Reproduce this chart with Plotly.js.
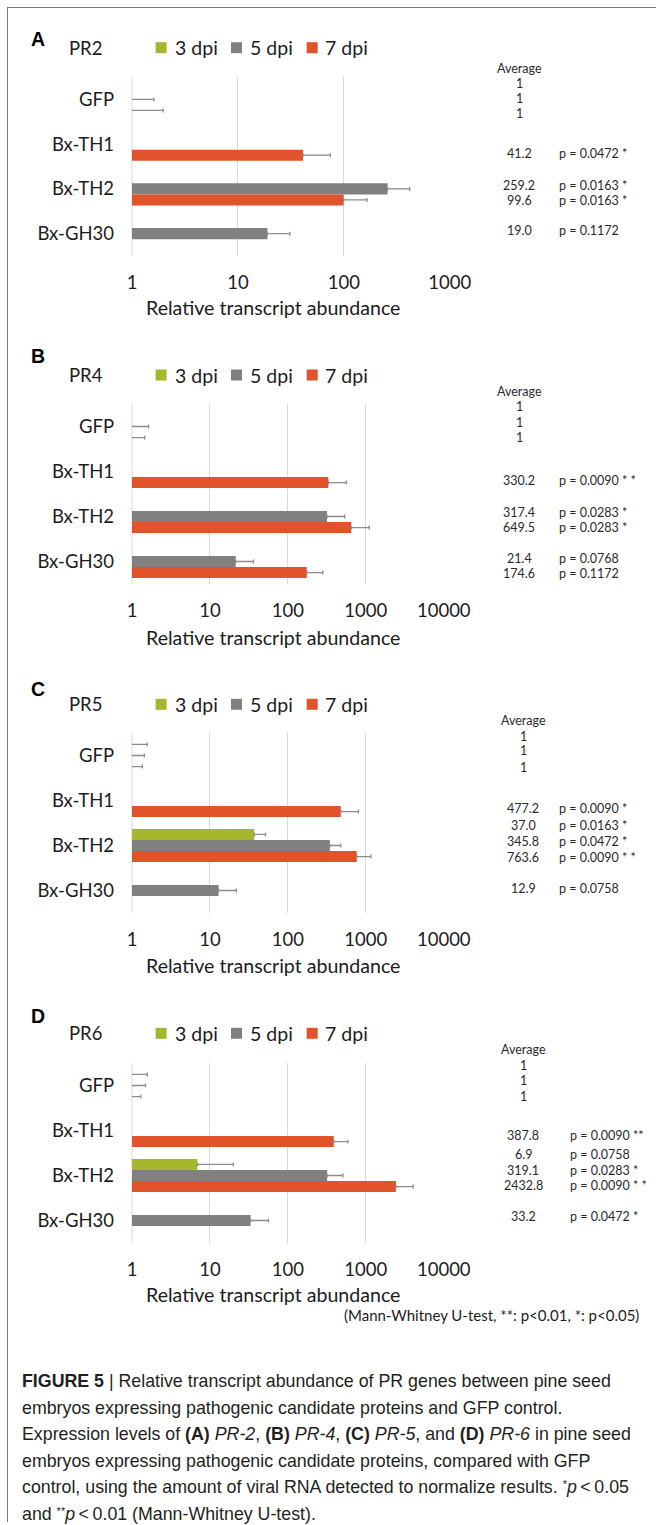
<!DOCTYPE html>
<html>
<head>
<meta charset="utf-8">
<script src="https://cdn.plot.ly/plotly-3.0.1.min.js"></script>
<style>
  html, body { margin:0; padding:0; background:#fff; }
  #wrap { position:relative; width:656px; height:1525px; overflow:hidden; }
  #chart { position:absolute; left:0; top:0; width:656px; height:1525px; }
  #frame { position:absolute; left:7px; top:7px; width:700px; height:1514px;
           border-left:1px solid #7a7a7a; border-top:1px solid #7a7a7a; }
  #caption { position:absolute; left:22px; top:1368px; font-family:"Liberation Sans", Arial, sans-serif;
             font-size:17.8px; line-height:26.5px; color:#231f20; white-space:nowrap; }
  #caption .sup { position:relative; top:-0.45em; font-size:11px; line-height:0; }
</style>
</head>
<body>
<div id="wrap">
  <div id="frame"></div>
  <div id="chart"></div>
  <div id="caption">
    <b>FIGURE 5</b> | Relative transcript abundance of PR genes between pine seed<br>
    embryos expressing pathogenic candidate proteins and GFP control.<br>
    Expression levels of <b>(A)</b> <i>PR-2</i>, <b>(B)</b> <i>PR-4</i>, <b>(C)</b> <i>PR-5</i>, and <b>(D)</b> <i>PR-6</i> in pine seed<br>
    embryos expressing pathogenic candidate proteins, compared with GFP<br>
    control, using the amount of viral RNA detected to normalize results. <span class="sup">*</span><i>p</i>&thinsp;&lt;&thinsp;0.05<br>
    and <span class="sup">**</span><i>p</i>&thinsp;&lt;&thinsp;0.01 (Mann-Whitney U-test).
  </div>
</div>
<script>
// ---------------- DATA ----------------
const categories = ["GFP", "Bx-TH1", "Bx-TH2", "Bx-GH30"];
const seriesNames = ["3 dpi", "5 dpi", "7 dpi"];
const panelLetters = ["A", "B", "C", "D"];
const geneNames = ["PR2", "PR4", "PR5", "PR6"];
const axisTitle = "Relative transcript abundance";
const testNote = "(Mann-Whitney U-test, **: p<0.01, *: p<0.05)";
const averageHeader = "Average";

const pr2TickLabels = ["1", "10", "100", "1000"];
const prTickLabels = ["1", "10", "100", "1000", "10000"];

// PR2
const pr2_3dpi = [null, null, null, null];
const pr2_5dpi = [1, null, 259.2, 19.0];
const pr2_7dpi = [1, 41.2, 99.6, null];
const pr2_3dpi_sd = [null, null, null, null];
const pr2_5dpi_sd = [0.61, null, 160, 12];
const pr2_7dpi_sd = [0.97, 33.4, 66, null];
const pr2_avgText = ["1", "1", "1", "41.2", "259.2", "99.6", "19.0"];
const pr2_pText = ["", "", "", "p = 0.0472 *", "p = 0.0163 *", "p = 0.0163 *", "p = 0.1172"];

// PR4
const pr4_3dpi = [null, null, null, null];
const pr4_5dpi = [1, null, 317.4, 21.4];
const pr4_7dpi = [1, 330.2, 649.5, 174.6];
const pr4_3dpi_sd = [null, null, null, null];
const pr4_5dpi_sd = [0.63, null, 218, 14.8];
const pr4_7dpi_sd = [0.46, 231, 460, 106];
const pr4_avgText = ["1", "1", "1", "330.2", "317.4", "649.5", "21.4", "174.6"];
const pr4_pText = ["", "", "", "p = 0.0090 * *", "p = 0.0283 *", "p = 0.0283 *", "p = 0.0768", "p = 0.1172"];

// PR5
const pr5_3dpi = [1, null, 37.0, null];
const pr5_5dpi = [1, null, 345.8, 12.9];
const pr5_7dpi = [1, 477.2, 763.6, null];
const pr5_3dpi_sd = [0.57, null, 14.7, null];
const pr5_5dpi_sd = [0.44, null, 132, 8.9];
const pr5_7dpi_sd = [0.36, 327, 397, null];
const pr5_avgText = ["1", "1", "1", "477.2", "37.0", "345.8", "763.6", "12.9"];
const pr5_pText = ["", "", "", "p = 0.0090 *", "p = 0.0163 *", "p = 0.0472 *", "p = 0.0090 * *", "p = 0.0758"];

// PR6
const pr6_3dpi = [1, null, 6.9, null];
const pr6_5dpi = [1, null, 319.1, 33.2];
const pr6_7dpi = [1, 387.8, 2432.8, null];
const pr6_3dpi_sd = [0.57, null, 13.1, null];
const pr6_5dpi_sd = [0.49, null, 189, 23.2];
const pr6_7dpi_sd = [0.30, 202, 1622, null];
const pr6_avgText = ["1", "1", "1", "387.8", "6.9", "319.1", "2432.8", "33.2"];
const pr6_pText = ["", "", "", "p = 0.0090 **", "p = 0.0758", "p = 0.0283 *", "p = 0.0090 * *", "p = 0.0472 *"];

// ---------------- STYLE / LAYOUT ----------------
const seriesColors = ["#a6b72b", "#808080", "#e1532a"];
const GRID = "#d9d9d9";
const W = 656, H = 1525;
const FONT = "Lato, 'Open Sans', sans-serif";
const TXT = "#1c1c1c";
function px(x) { return x / W; }
function py(y) { return 1 - y / H; }

const panels = [
  { series: [pr2_3dpi, pr2_5dpi, pr2_7dpi], sd: [pr2_3dpi_sd, pr2_5dpi_sd, pr2_7dpi_sd],
    avg: pr2_avgText, p: pr2_pText, ticks: pr2TickLabels,
    geo: { left: 132, right: 450, top: 77, bottom: 256, letterY: 39, headY: 47.7, titleY: 307,
           avgHeadY: 68, rowY: [83, 99, 114, 153, 185, 200, 230], avgX: 519, pX: 557 } },
  { series: [pr4_3dpi, pr4_5dpi, pr4_7dpi], sd: [pr4_3dpi_sd, pr4_5dpi_sd, pr4_7dpi_sd],
    avg: pr4_avgText, p: pr4_pText, ticks: prTickLabels,
    geo: { left: 132, right: 444, top: 404, bottom: 584, letterY: 356, headY: 375, titleY: 637,
           avgHeadY: 391, rowY: [406.7, 422, 437.3, 480, 512, 527.3, 558.3, 573.7], avgX: 519, pX: 557 } },
  { series: [pr5_3dpi, pr5_5dpi, pr5_7dpi], sd: [pr5_3dpi_sd, pr5_5dpi_sd, pr5_7dpi_sd],
    avg: pr5_avgText, p: pr5_pText, ticks: prTickLabels,
    geo: { left: 132, right: 444, top: 733, bottom: 913, letterY: 689, headY: 704.3, titleY: 965,
           avgHeadY: 720, rowY: [736, 751, 767, 808, 825.7, 841.7, 857.3, 888.3], avgX: 523, pX: 557 } },
  { series: [pr6_3dpi, pr6_5dpi, pr6_7dpi], sd: [pr6_3dpi_sd, pr6_5dpi_sd, pr6_7dpi_sd],
    avg: pr6_avgText, p: pr6_pText, ticks: prTickLabels,
    geo: { left: 132, right: 444, top: 1063, bottom: 1243, letterY: 1016, headY: 1033.3, titleY: 1294,
           avgHeadY: 1049, rowY: [1065, 1080, 1096, 1135.7, 1154, 1170, 1185.7, 1216.7], avgX: 523, pX: 568 } }
];

const barWidth = 0.246;
const barOffsets = [-1.5 * barWidth, -0.5 * barWidth, 0.5 * barWidth];

const traces = [];
const layout = {
  width: W, height: H,
  margin: { l: 0, r: 0, t: 0, b: 0 },
  paper_bgcolor: "rgba(0,0,0,0)",
  plot_bgcolor: "rgba(0,0,0,0)",
  showlegend: false,
  barmode: "overlay",
  font: { family: FONT, color: TXT },
  annotations: [],
  shapes: []
};

panels.forEach((pn, i) => {
  const sfx = i === 0 ? "" : String(i + 1);
  const g = pn.geo;
  const nDec = pn.ticks.length - 1;
  // the gridline at "1" (left edge of the plot)
  layout.shapes.push({ type: "line", layer: "below",
    xref: "x" + sfx + " domain", yref: "y" + sfx + " domain",
    x0: 0, x1: 0, y0: 0, y1: 1, line: { color: GRID, width: 1 } });
  pn.series.forEach((vals, s) => {
    // bars sitting at the axis origin (value 1) get their lower arm down to the axis edge (no end cap there)
    const minus = vals.map(v => v === null ? null : (v <= 1 ? v : 0));
    traces.push({
      type: "bar", orientation: "h",
      name: seriesNames[s],
      y: categories, x: vals,
      width: barWidth, offset: barOffsets[s],
      marker: { color: seriesColors[s], line: { width: 0 } },
      cliponaxis: true,
      error_x: { type: "data", symmetric: false, array: pn.sd[s], arrayminus: minus,
                 color: "#8c8c8c", thickness: 1.3, width: 2 },
      xaxis: "x" + sfx, yaxis: "y" + sfx,
      hoverinfo: "skip"
    });
  });
  layout["xaxis" + sfx] = {
    type: "log", domain: [px(g.left), px(g.right)],
    range: [0, nDec + 0.003],
    anchor: "y" + sfx,
    tickmode: "array",
    tickvals: pn.ticks.map(Number), ticktext: pn.ticks,
    showgrid: true, gridcolor: GRID, gridwidth: 1,
    zeroline: false, showline: false, ticks: "",
    ticklabelstandoff: 13,
    tickfont: { family: FONT, size: 18.5, color: TXT },
    fixedrange: true
  };
  layout["yaxis" + sfx] = {
    domain: [py(g.bottom), py(g.top)],
    anchor: "x" + sfx,
    type: "category",
    categoryorder: "array", categoryarray: categories,
    range: [categories.length - 0.5, -0.5],
    showgrid: false, zeroline: false, showline: false, ticks: "",
    ticklabelstandoff: 17,
    tickfont: { family: FONT, size: 18.5, color: TXT },
    fixedrange: true
  };
  const ann = layout.annotations;
  ann.push({ xref: "paper", yref: "paper", x: px(28.5), y: py(g.letterY), xanchor: "left", yanchor: "middle",
             text: "<b>" + panelLetters[i] + "</b>", showarrow: false,
             font: { family: "'Liberation Sans', Arial, sans-serif", size: 19.5, color: "#000" } });
  ann.push({ xref: "paper", yref: "paper", x: px(67), y: py(g.headY), xanchor: "left", yanchor: "middle",
             text: geneNames[i], showarrow: false, font: { family: FONT, size: 18.5, color: TXT } });
  const sqX = [155.6, 231, 306.7], txX = [172.5, 247.5, 322.5];
  seriesNames.forEach((nm, s) => {
    layout.shapes.push({ type: "rect", xref: "paper", yref: "paper",
      x0: px(sqX[s]), x1: px(sqX[s] + 11), y0: py(g.headY - 5.5), y1: py(g.headY + 5.5),
      fillcolor: seriesColors[s], line: { width: 0 } });
    ann.push({ xref: "paper", yref: "paper", x: px(txX[s]), y: py(g.headY), xanchor: "left", yanchor: "middle",
               text: nm, showarrow: false, font: { family: FONT, size: 19.5, color: TXT } });
  });
  ann.push({ xref: "paper", yref: "paper", x: px(272.5), y: py(g.titleY), xanchor: "center", yanchor: "middle",
             text: axisTitle, showarrow: false, font: { family: FONT, size: 19.6, color: TXT } });
  ann.push({ xref: "paper", yref: "paper", x: px(g.avgX), y: py(g.avgHeadY), xanchor: "center", yanchor: "middle",
             text: averageHeader, showarrow: false, font: { family: FONT, size: 12.5, color: "#2a2a2a" } });
  pn.avg.forEach((t, r) => {
    ann.push({ xref: "paper", yref: "paper", x: px(g.avgX), y: py(g.rowY[r]), xanchor: "center", yanchor: "middle",
               text: t, showarrow: false, font: { family: FONT, size: 12.5, color: "#2a2a2a" } });
    if (pn.p[r]) {
      ann.push({ xref: "paper", yref: "paper", x: px(g.pX), y: py(g.rowY[r]), xanchor: "left", yanchor: "middle",
                 text: pn.p[r], showarrow: false, font: { family: FONT, size: 12.5, color: "#2a2a2a" } });
    }
  });
});

layout.annotations.push({ xref: "paper", yref: "paper", x: px(641), y: py(1315), xanchor: "right", yanchor: "middle",
  text: testNote, showarrow: false, font: { family: FONT, size: 15, color: TXT } });

Plotly.newPlot("chart", traces, layout, { staticPlot: true, displayModeBar: false });
</script>
</body>
</html>
